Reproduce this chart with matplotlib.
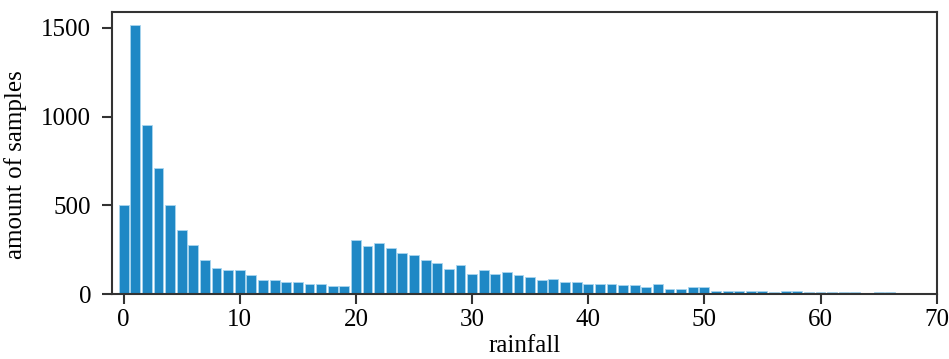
import numpy as np
import matplotlib
matplotlib.use('Agg')
import matplotlib.pyplot as plt

# rainfall bins (1 unit each) and sample counts
rainfall = np.arange(0, 67)
counts = [
    500, 1515, 955, 710, 500, 362, 275, 192, 145, 136,
    136, 105, 77, 77, 68, 68, 57, 57, 47, 47,
    302, 273, 287, 257, 230, 219, 190, 172, 143, 162,
    115, 134, 115, 124, 107, 96, 77, 87, 68, 68,
    58, 58, 58, 49, 49, 40, 58, 30, 30, 40,
    38, 19, 19, 19, 19, 19, 9, 19, 19, 9,
    9, 9, 9, 9, 0, 9, 9,
]

plt.rcParams['font.family'] = ['Liberation Serif', 'DejaVu Serif']

fig = plt.figure(figsize=(9.49, 3.59), dpi=100)
ax = fig.add_axes([0.118, 0.181, 0.869, 0.786])

ax.bar(rainfall, counts, width=0.85, color='#1f88c5',
       edgecolor='#a9d5ef', linewidth=0.6)

ax.set_xlim(-1, 70)
ax.set_ylim(0, 1590)
ax.set_xticks(np.arange(0, 71, 10))
ax.set_yticks([0, 500, 1000, 1500])

ax.set_xlabel('rainfall', fontsize=18)
ax.set_ylabel('amount of samples', fontsize=18)
ax.xaxis.set_label_coords(0.5, -0.145)
ax.yaxis.set_label_coords(-0.103, 0.46)
ax.tick_params(labelsize=18, width=1.5, length=7, color='#333333')
ax.tick_params(axis='x', pad=4)
ax.tick_params(axis='y', pad=8)
for s in ax.spines.values():
    s.set_linewidth(1.5)
    s.set_color('#333333')

fig.savefig('out.png', dpi=100)
